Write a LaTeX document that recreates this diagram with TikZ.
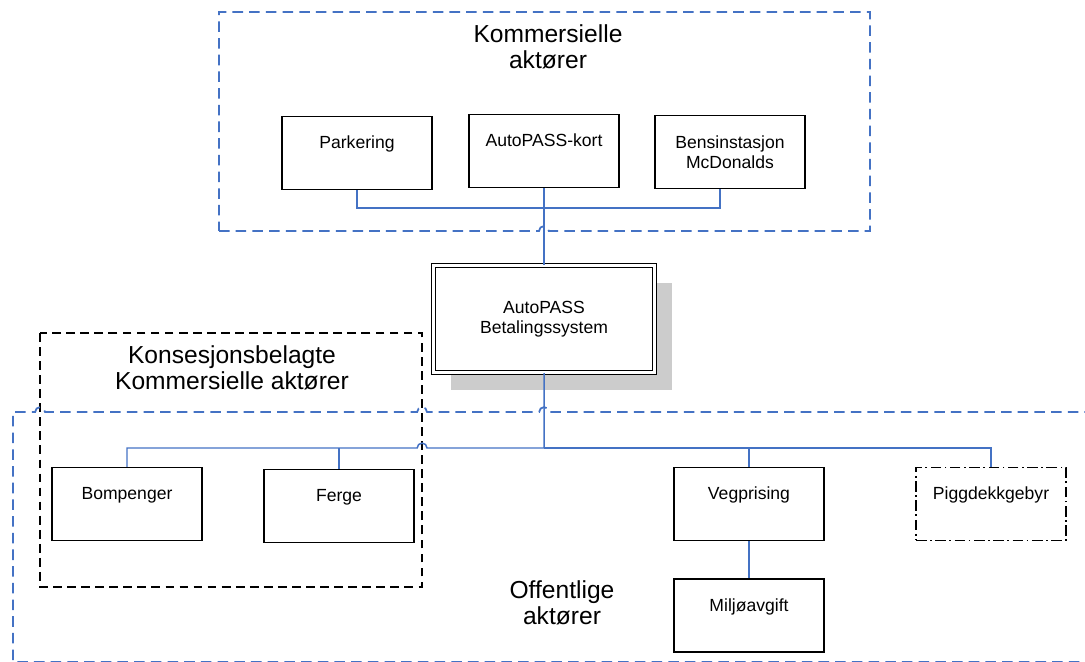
\documentclass[tikz,border=0pt]{standalone}
\usepackage{fontspec}
\setmainfont{Liberation Sans}
\usetikzlibrary{positioning, shadows}
\definecolor{linkblue}{RGB}{68,114,196}
\newcommand{\hoprad}{2.8pt} % radius of the little bridge where lines cross
\tikzset{
box/.style={draw, line width=0.8pt, minimum width=3cm, minimum height=1.46cm, align=center, font=\fontsize{10}{11.5}\selectfont}, % the actor boxes
upbox/.style={box, text depth=12pt}, % pushes a one-line text towards the top of its box
sysbox/.style={draw, double, double distance=1.8pt, line width=0.7pt, fill=white, minimum width=4.42cm, minimum height=2.14cm, align=center, font=\fontsize{10}{11.5}\selectfont, drop shadow={shadow xshift=10pt, shadow yshift=-10pt, fill=black!20, opacity=1}}, % the payment system in the middle
link/.style={draw=linkblue, line width=0.85pt}, % the blue connectors
bluedash/.style={draw=linkblue, line width=1pt, dash pattern=on 6pt off 3.5pt}, % frame of a group of actors
blackdash/.style={draw=black, line width=0.8pt, dash pattern=on 5pt off 3pt},
dashdot/.style={dash pattern=on 6pt off 2pt on 1pt off 2pt},
title/.style={align=center, font=\fontsize{14}{14.5}\selectfont},
}

\begin{document}
\begin{tikzpicture}[x=0.02cm, y=-0.02cm]
    \useasboundingbox (0,0) rectangle (1085,662);
    % group frames
    \draw[bluedash] (219,231) -- (539,231) arc[start angle=180, end angle=0, radius=\hoprad] -- (870,231) -- (870,12) -- (219,12) -- cycle;
    \draw[blackdash] (40,333) rectangle (422,587);
    \draw[bluedash] (1095,412) -- (549,412) arc[start angle=0, end angle=180, radius=\hoprad]
        -- (427,412) arc[start angle=0, end angle=180, radius=\hoprad]
        -- (45,412) arc[start angle=0, end angle=180, radius=\hoprad]
        -- (13,412) -- (13,662) -- (1095,662);
    \node[title] (komtitle) at (548,47) {Kommersielle\\aktører};
    \node[title] (kontitle) at (232,368) {Konsesjonsbelagte\\Kommersielle aktører};
    \node[title] (offtitle) at (562,603) {Offentlige\\aktører};

    % commercial actors
    \node[upbox] (park) at (357,153) {Parkering};
    \node[upbox] (kort) at (544,151) {AutoPASS-kort};
    \node[box] (bens) at (730,152) {Bensinstasjon\\McDonalds};
    \node[sysbox] (sys) at (544,319) {AutoPASS\\Betalingssystem};

    % public actors
    \node[upbox] (bom) at (127,504) {Bompenger};
    \node[upbox] (ferge) at (339,506) {Ferge};
    \node[upbox] (veg) at (749,504) {Vegprising};
    \node[upbox, dashdot] (pigg) at (991,504) {Piggdekkgebyr};
    \node[upbox, below=0.74cm of veg] (milj) {Miljøavgift};

    \coordinate (topjoin) at (544,208);
    \coordinate (botjoin) at (544,448);
    \draw[link] (park.south) |- (topjoin) -- (kort.south);
    \draw[link] ([xshift=-0.2cm]bens.south) |- (topjoin);
    \draw[link] (kort.south) -- (sys.north);
    \draw[link] (sys.south) -- (botjoin) -- (427,448) arc[start angle=0, end angle=180, radius=\hoprad]
        -- (bom.north |- botjoin) -- (bom.north);
    \draw[link] (ferge.north |- botjoin) -- (ferge.north);
    \draw[link] (botjoin) -| (pigg.north);
    \draw[link] (veg.north |- botjoin) -- (veg.north);
    \draw[link] (veg.south) -- (milj.north);
\end{tikzpicture}
\end{document}
